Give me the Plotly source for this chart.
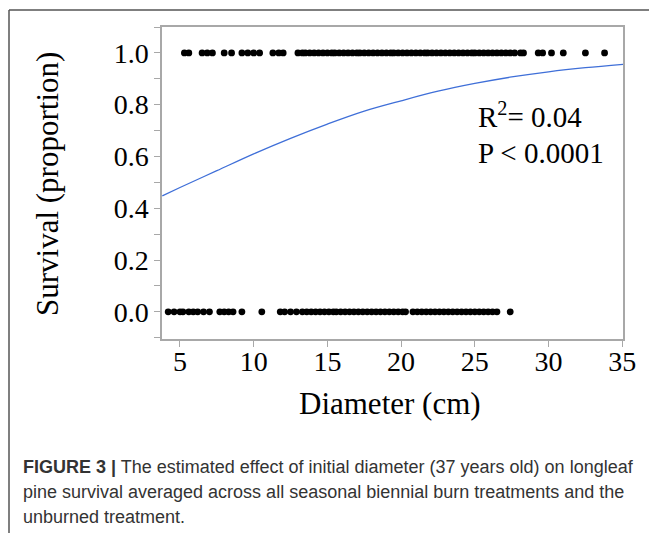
import plotly.graph_objects as go

# ---- data ----
alive_diam = [5.3, 5.6, 6.5, 6.85, 7.2, 8.0, 8.5, 9.2, 9.6, 10.0, 10.4, 11.3, 11.7, 12.0,
              13.0, 13.3, 13.5, 13.8, 14.1, 14.4, 14.7, 15.0, 15.3, 15.5, 15.8, 16.1, 16.4,
              16.7, 17.0, 17.2, 17.5, 17.8, 18.1, 18.4, 18.7, 19.0, 19.3, 19.5, 19.8, 20.1,
              20.4, 20.7, 21.0, 21.3, 21.6, 21.8, 22.1, 22.4, 22.7, 23.0, 23.3, 23.6, 23.9,
              24.2, 24.5, 24.8, 25.0, 25.3, 25.6, 25.9, 26.2, 26.5, 26.8, 27.1, 27.4, 27.7,
              28.1, 28.3, 29.3, 29.6, 30.2, 31.0, 32.5, 33.8]
dead_diam = [4.2, 4.6, 5.0, 5.2, 5.6, 5.9, 6.2, 6.6, 7.0, 7.7, 8.0, 8.3, 8.6, 9.2, 10.55,
             11.8, 12.1, 12.5, 12.9, 13.3, 13.6, 13.9, 14.2, 14.5, 14.8, 15.1, 15.4, 15.6,
             15.9, 16.2, 16.5, 16.8, 17.1, 17.4, 17.7, 18.0, 18.3, 18.6, 18.9, 19.2, 19.5,
             19.8, 20.1, 20.3, 20.8, 21.1, 21.4, 21.7, 22.0, 22.3, 22.6, 22.9, 23.2, 23.5,
             23.8, 24.1, 24.4, 24.7, 25.0, 25.3, 25.6, 25.9, 26.2, 26.5, 27.4]
curve_x = [3.8, 5, 7.5, 10, 12.5, 15, 17.5, 20, 22.5, 25, 27.5, 30, 32.5, 35.05]
curve_y = [0.448, 0.48, 0.545, 0.61, 0.67, 0.725, 0.775, 0.815, 0.852, 0.882, 0.907, 0.927, 0.943, 0.956]

y_ticks = [0.0, 0.2, 0.4, 0.6, 0.8, 1.0]
x_ticks = [5, 10, 15, 20, 25, 30, 35]

serif = "Liberation Serif, Times New Roman, serif"
sans = "Liberation Sans, Arial, sans-serif"

fig = go.Figure()
fig.add_trace(go.Scatter(x=alive_diam, y=[1.0] * len(alive_diam), mode="markers",
                         marker=dict(color="black", size=6.8), showlegend=False))
fig.add_trace(go.Scatter(x=dead_diam, y=[0.0] * len(dead_diam), mode="markers",
                         marker=dict(color="black", size=6.8), showlegend=False))
fig.add_trace(go.Scatter(x=curve_x, y=curve_y, mode="lines",
                         line=dict(color="#3f6fd8", width=1.3, shape="spline"), showlegend=False))

OFF = 8  # page body margin shifts the figure
W, H = 657, 533
L, T = 162 - OFF, 27 - OFF
PR, PB = 623 - OFF, 339 - OFF
R, B = W - PR, H - PB
pw, ph = PR - L, PB - T


def px(x):
    return (x - OFF - L) / pw


def py(y):
    return (PB - (y - OFF)) / ph


axis_col = "#a8a8a8"
fig.update_layout(
    width=W, height=H, margin=dict(l=L, r=R, t=T, b=B),
    paper_bgcolor="white", plot_bgcolor="white",
    xaxis=dict(range=[3.78, 35.05], tickvals=x_ticks, ticks="outside", ticklen=6,
               tickcolor=axis_col, showline=True, linecolor=axis_col, linewidth=1.5,
               mirror=True, showgrid=False, zeroline=False, ticklabelstandoff=-9,
               tickfont=dict(family=serif, size=28, color="black")),
    yaxis=dict(range=[-0.105, 1.1], tickvals=y_ticks, tickformat=".1f", ticks="outside",
               ticklen=6, tickcolor=axis_col, showline=True, linecolor=axis_col, linewidth=1.5,
               mirror=True, showgrid=False, zeroline=False,
               minor=dict(dtick=0.1, ticks="outside", ticklen=6, tickcolor=axis_col),
               tickfont=dict(family=serif, size=28, color="black")),
)

cap_font = dict(family=sans, size=18, color="#333333")
ann = [
    dict(text="Diameter (cm)", x=px(390), y=py(403), font=dict(family=serif, size=31, color="black"),
         xanchor="center", yanchor="middle"),
    dict(text="Survival (proportion)", x=px(47), y=py(184), textangle=-90,
         font=dict(family=serif, size=31, color="black"), xanchor="center", yanchor="middle"),
    dict(text="R<sup>2</sup>= 0.04", x=px(476), y=py(115), font=dict(family=serif, size=29, color="black"),
         xanchor="left", yanchor="middle"),
    dict(text="P < 0.0001", x=px(476), y=py(153), font=dict(family=serif, size=29, color="black"),
         xanchor="left", yanchor="middle"),
    dict(text="<b>FIGURE 3 |</b> The estimated effect of initial diameter (37 years old) on longleaf",
         x=px(21), y=py(467), font=cap_font, xanchor="left", yanchor="middle"),
    dict(text="pine survival averaged across all seasonal biennial burn treatments and the",
         x=px(21), y=py(492), font=cap_font, xanchor="left", yanchor="middle"),
    dict(text="unburned treatment.",
         x=px(21), y=py(517), font=cap_font, xanchor="left", yanchor="middle"),
]
for a in ann:
    a.update(xref="paper", yref="paper", showarrow=False)
fig.update_layout(annotations=ann)

fig.update_layout(shapes=[
    dict(type="line", xref="paper", yref="paper", x0=px(9), x1=px(9), y0=py(10), y1=py(560),
         line=dict(color="#555555", width=1.5)),
    dict(type="line", xref="paper", yref="paper", x0=px(9), x1=px(700), y0=py(10), y1=py(10),
         line=dict(color="#555555", width=1.5)),
])

fig.write_html("out.html")
